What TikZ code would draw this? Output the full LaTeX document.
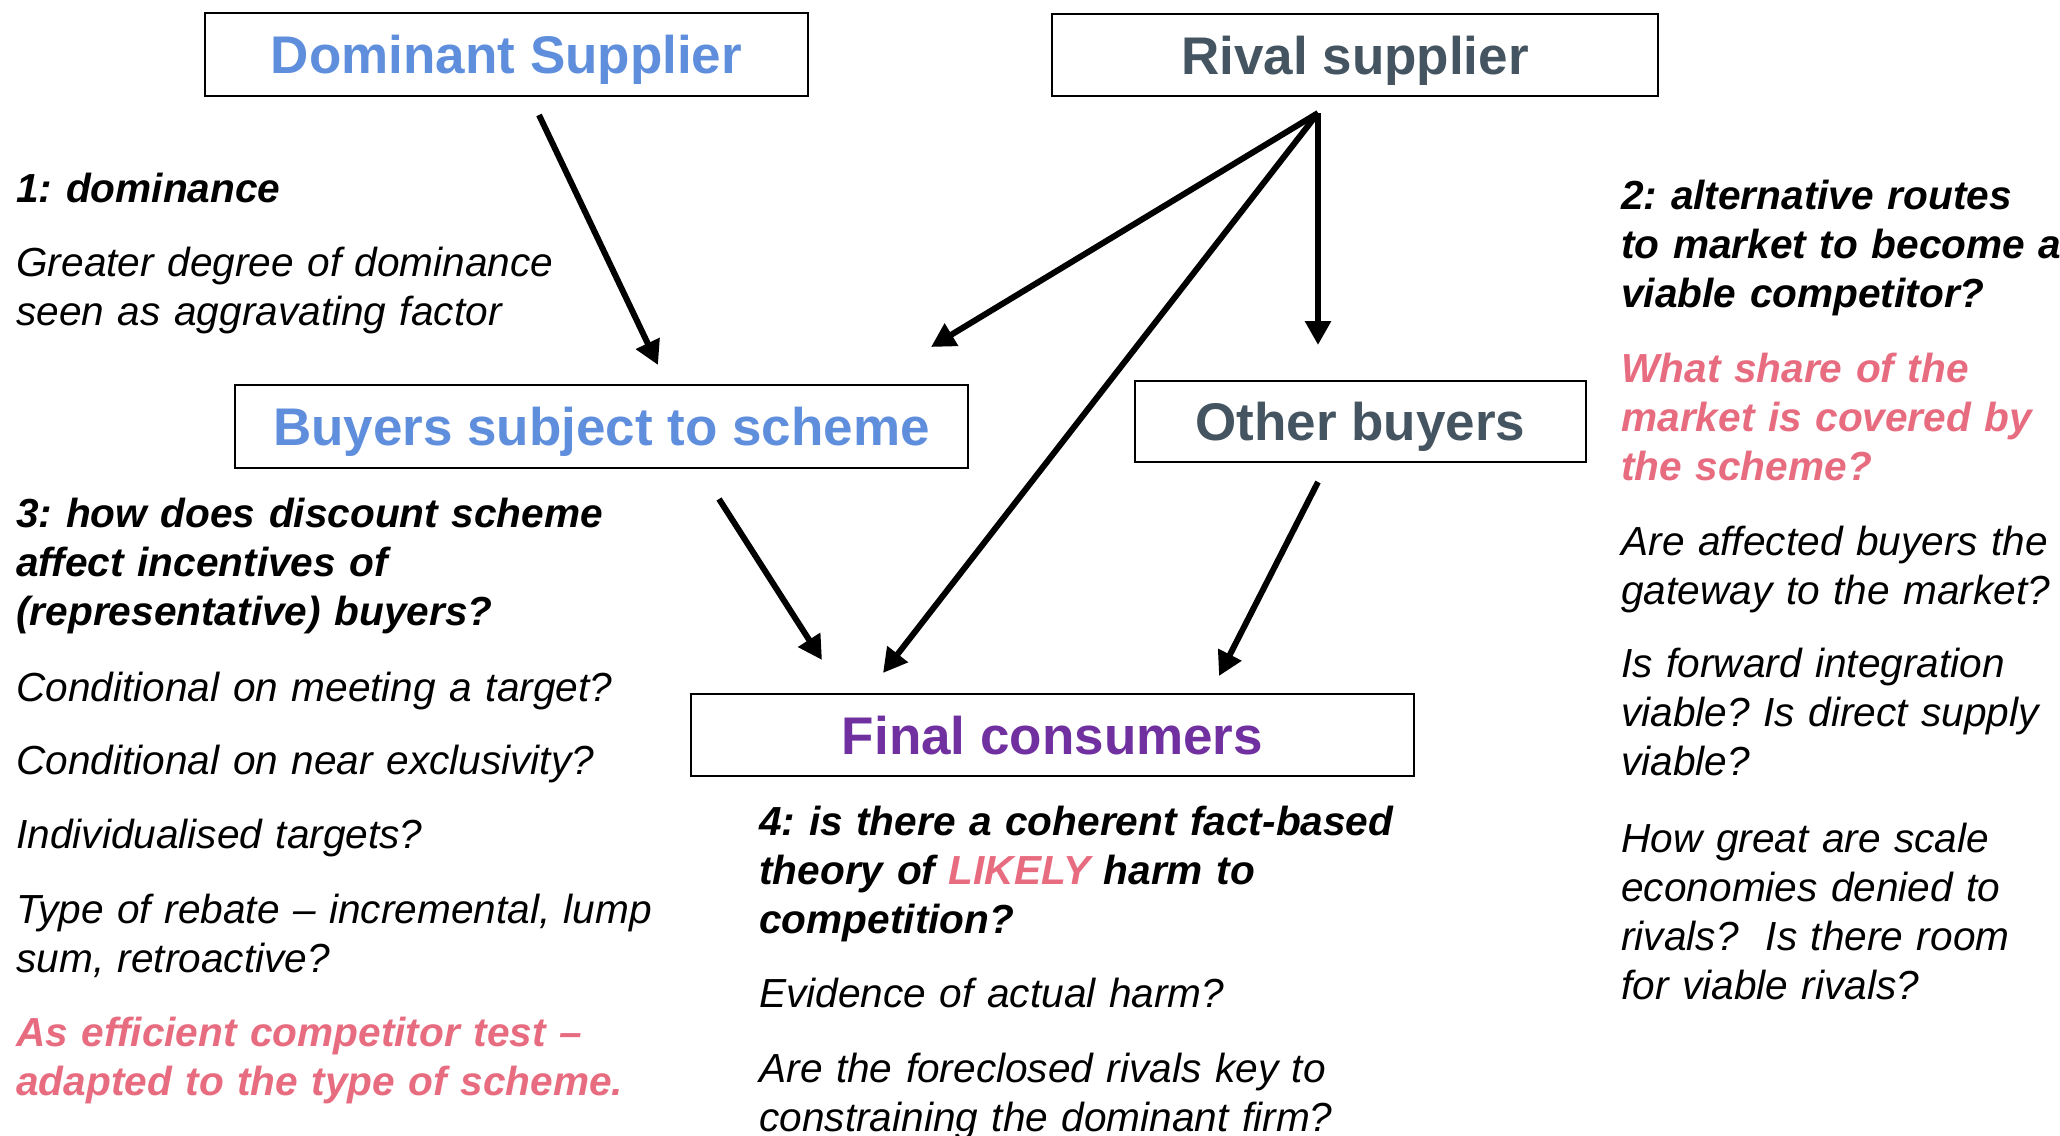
\documentclass[tikz,border=0pt]{standalone}
\usepackage{fontspec}
\setmainfont{Liberation Sans}
\usetikzlibrary{arrows.meta}
\definecolor{dblue}{RGB}{95,143,220}
\definecolor{slate}{RGB}{68,84,96}
\definecolor{fpurple}{RGB}{112,48,160}
\definecolor{pinkr}{RGB}{232,108,128}
\newcommand{\headfont}{\fontsize{26.5}{30}\selectfont\bfseries}
\newcommand{\bodyfont}{\fontsize{20.3}{24.5}\selectfont\itshape\frenchspacing}
\begin{document}
\begin{tikzpicture}[x=0.5pt,y=-0.5pt,
  box/.style={draw=black, line width=1pt, inner sep=0pt, font=\headfont, text height=19pt, text depth=0pt},
  arr/.style={line width=3pt, -{Triangle[length=12pt,width=12.5pt]}},
  para/.style={anchor=base west, inner sep=0pt, text width=600pt, align=left, font=\bodyfont},
  hd/.style={para, font=\bodyfont\bfseries},
  pk/.style={para, font=\bodyfont\bfseries, text=pinkr}]
\useasboundingbox[fill=white] (0,0) rectangle (2060,1135);

% boxes
\node[box, minimum width=301.5pt, minimum height=41.5pt, text=dblue] (dom) at (506.5,54.5) {Dominant Supplier};
\node[box, minimum width=303pt, minimum height=41pt, text=slate] (rival) at (1355,55) {Rival supplier};
\node[box, minimum width=366.5pt, minimum height=41.5pt, text=dblue] (buyers) at (601.5,426.5) {Buyers subject to scheme};
\node[box, minimum width=225.5pt, minimum height=40.5pt, text=slate] (other) at (1360.5,421.5) {Other buyers};
\node[box, minimum width=361.5pt, minimum height=41pt, text=fpurple] (final) at (1052.5,735) {Final consumers};

% connectors
\coordinate (rsO) at ([shift={(-37,16)}]rival.south);
\draw[arr] ([shift={(32.5,18)}]dom.south) -- ([shift={(56.5,-19)}]buyers.north);
\draw[arr] (rsO) -- ([shift={(-38,-37)}]buyers.north east);
\draw[arr] (rsO) -- ([shift={(-42.5,-35)}]other.north);
\draw[arr] (rsO) -- ([shift={(-169.5,-20)}]final.north);
\draw[arr] ([shift={(117.5,30)}]buyers.south) -- ([shift={(-230.5,-33)}]final.north);
\draw[arr] ([shift={(-42.5,19)}]other.south) -- ([shift={(166.5,-17)}]final.north);

% left column
\node[hd] (p1) at (16,202) {1: dominance};
\node[para] (p2) at (16,276) {Greater degree of dominance\\seen as aggravating factor};
\node[hd] (p3) at (16,527) {3: how does discount scheme\\affect incentives of\\(representative) buyers?};
\node[para] (p4) at (16,701) {Conditional on meeting a target?};
\node[para] (p5) at (16,774) {Conditional on near exclusivity?};
\node[para] (p6) at (16,848) {Individualised targets?};
\node[para] (p7) at (16,923) {Type of rebate – incremental, lump\\sum, retroactive?};
\node[pk] (p8) at (16,1046) {As efficient competitor test –\\adapted to the type of scheme.};

% right column
\node[hd] (r1) at (1621,209) {2: alternative routes\\to market to become a\\viable competitor?};
\node[pk] (r2) at (1621,382) {What share of the\\market is covered by\\the scheme?};
\node[para] (r3) at (1621,555) {Are affected buyers the\\gateway to the market?};
\node[para] (r4) at (1621,677) {Is forward integration\\viable? Is direct supply\\viable?};
\node[para] (r5) at (1621,852) {How great are scale\\economies denied to\\rivals?\ \ Is there room\\for viable rivals?};

% centre column
\node[hd] (c1) at (759,835) {4: is there a coherent fact-based\\theory of \textcolor{pinkr}{LIKELY} harm to\\competition?};
\node[para] (c2) at (759,1007) {Evidence of actual harm?};
\node[para] (c3) at (759,1082) {Are the foreclosed rivals key to\\constraining the dominant firm?};
\end{tikzpicture}
\end{document}
